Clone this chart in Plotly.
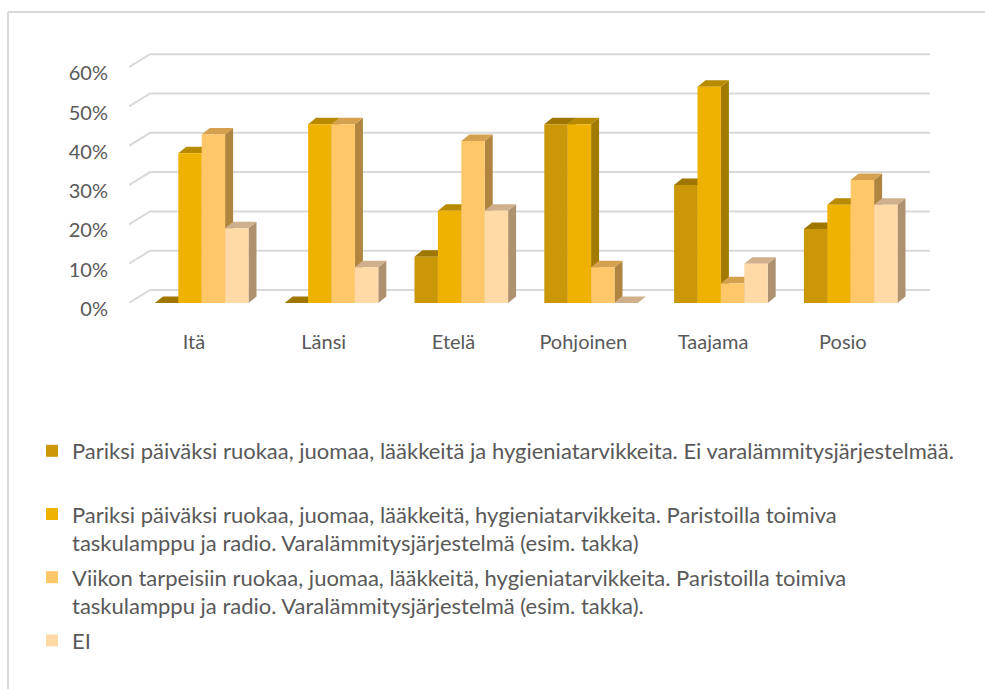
import plotly.graph_objects as go

categories = ["Itä", "Länsi", "Etelä", "Pohjoinen", "Taajama", "Posio"]
series_names = [
    "Pariksi päiväksi ruokaa, juomaa, lääkkeitä ja hygieniatarvikkeita. Ei varalämmitysjärjestelmää.<br> ",
    "Pariksi päiväksi ruokaa, juomaa, lääkkeitä, hygieniatarvikkeita. Paristoilla toimiva<br>taskulamppu ja radio. Varalämmitysjärjestelmä (esim. takka)",
    "Viikon tarpeisiin ruokaa, juomaa, lääkkeitä, hygieniatarvikkeita. Paristoilla toimiva<br>taskulamppu ja radio. Varalämmitysjärjestelmä (esim. takka).",
    "EI",
]
s1 = [0.0, 0.0, 11.8, 45.5, 30.0, 18.8]
s2 = [38.1, 45.5, 23.5, 45.5, 55.0, 25.0]
s3 = [42.9, 45.5, 41.2, 9.1, 5.0, 31.3]
s4 = [19.0, 9.1, 23.5, 0.0, 10.0, 25.0]
series_values = [s1, s2, s3, s4]
y_tickvals = [0, 10, 20, 30, 40, 50, 60]
y_ticktext = ["0%", "10%", "20%", "30%", "40%", "50%", "60%"]

front_colors = ["#C99708", "#F0B200", "#FFC768", "#FFDAA6"]
top_colors = ["#9E7600", "#B78A00", "#D6A14E", "#D0B08C"]
side_colors = ["#8A6700", "#A27A00", "#B0853F", "#AE916F"]

# ---- layout geometry (pixels) ----
W, H = 985, 689
L_PX, R_PX = 129, 930
T_PX, B_PX = 50, 303
PX_PER_UNIT_X = 129.8
PX_PER_PCT = 3.93
x_range = [-0.5, -0.5 + (R_PX - L_PX) / PX_PER_UNIT_X]
y_range = [0, (B_PX - T_PX) / PX_PER_PCT]

bar_w = 23.4 / PX_PER_UNIT_X
group_left = -39.0 / PX_PER_UNIT_X
dx = 8.0 / PX_PER_UNIT_X
dy = 6.5 / PX_PER_PCT
gdx = 21.0 / PX_PER_UNIT_X
gdy = 13.0 / PX_PER_PCT

xs = list(range(len(categories)))
font_family = "Lato, 'Open Sans', sans-serif"
txt_col = "#595959"

fig = go.Figure()
shapes = []

# gridlines (Excel-style 3D back wall lines)
for t in y_tickvals:
    shapes.append(dict(type="path", xref="x", yref="y", layer="below",
                       path=f"M {x_range[0]},{t} L {x_range[0]+gdx},{t+gdy} L {x_range[1]},{t+gdy}",
                       line=dict(color="#D9D9D9", width=2)))

for i, (name, vals) in enumerate(zip(series_names, series_values)):
    off = group_left + i * bar_w
    for x, v in zip(xs, vals):
        x0 = x + off
        x1 = x0 + bar_w
        # side face
        shapes.append(dict(type="path", xref="x", yref="y", layer="below",
                           path=f"M {x1},{0} L {x1},{v} L {x1+dx},{v+dy} L {x1+dx},{dy} Z",
                           fillcolor=side_colors[i], line=dict(width=0)))
        # top face
        shapes.append(dict(type="path", xref="x", yref="y", layer="below",
                           path=f"M {x0},{v} L {x1},{v} L {x1+dx},{v+dy} L {x0+dx},{v+dy} Z",
                           fillcolor=top_colors[i], line=dict(width=0)))
    fig.add_trace(go.Bar(
        x=xs, y=vals, name=name, offset=off, width=bar_w,
        marker=dict(color=front_colors[i], line=dict(width=0)),
        legendgroup=f"g{i}",
    ))

# chart frame (left and top border)
def px2paper_x(px):
    return (px - L_PX) / (R_PX - L_PX)

def px2paper_y(py):
    return (B_PX - py) / (B_PX - T_PX)

shapes.append(dict(type="line", xref="paper", yref="paper", layer="above",
                   x0=px2paper_x(8), x1=px2paper_x(8), y0=px2paper_y(12), y1=px2paper_y(700),
                   line=dict(color="#D9D9D9", width=2)))
shapes.append(dict(type="line", xref="paper", yref="paper", layer="above",
                   x0=px2paper_x(8), x1=px2paper_x(1000), y0=px2paper_y(12), y1=px2paper_y(12),
                   line=dict(color="#D9D9D9", width=2)))

fig.update_layout(
    width=W, height=H,
    margin=dict(l=L_PX, r=W - R_PX, t=T_PX, b=H - B_PX, autoexpand=False),
    paper_bgcolor="white", plot_bgcolor="white",
    barmode="overlay",
    shapes=shapes,
    font=dict(family=font_family, color=txt_col, size=20),
    showlegend=True,
    legend=dict(
        x=px2paper_x(32), y=px2paper_y(430), xanchor="left", yanchor="top",
        orientation="v", traceorder="grouped", tracegroupgap=3,
        valign="top", font=dict(size=22, color=txt_col, family=font_family),
        bgcolor="rgba(0,0,0,0)",
    ),
    xaxis=dict(range=x_range, tickvals=xs, ticktext=categories, showgrid=False,
               zeroline=False, showline=False, ticks="", ticklabelstandoff=25,
               tickfont=dict(size=20, color=txt_col), fixedrange=True),
    yaxis=dict(range=y_range, tickvals=y_tickvals, ticktext=y_ticktext, showgrid=False,
               zeroline=False, showline=False, ticks="", ticklabelstandoff=20,
               ticklabelshift=6, tickfont=dict(size=20, color=txt_col), fixedrange=True),
)

fig.write_html(
    "out.html",
    config={"displayModeBar": False},
    post_script="document.body.style.margin='0px';document.body.style.overflow='hidden';",
)
